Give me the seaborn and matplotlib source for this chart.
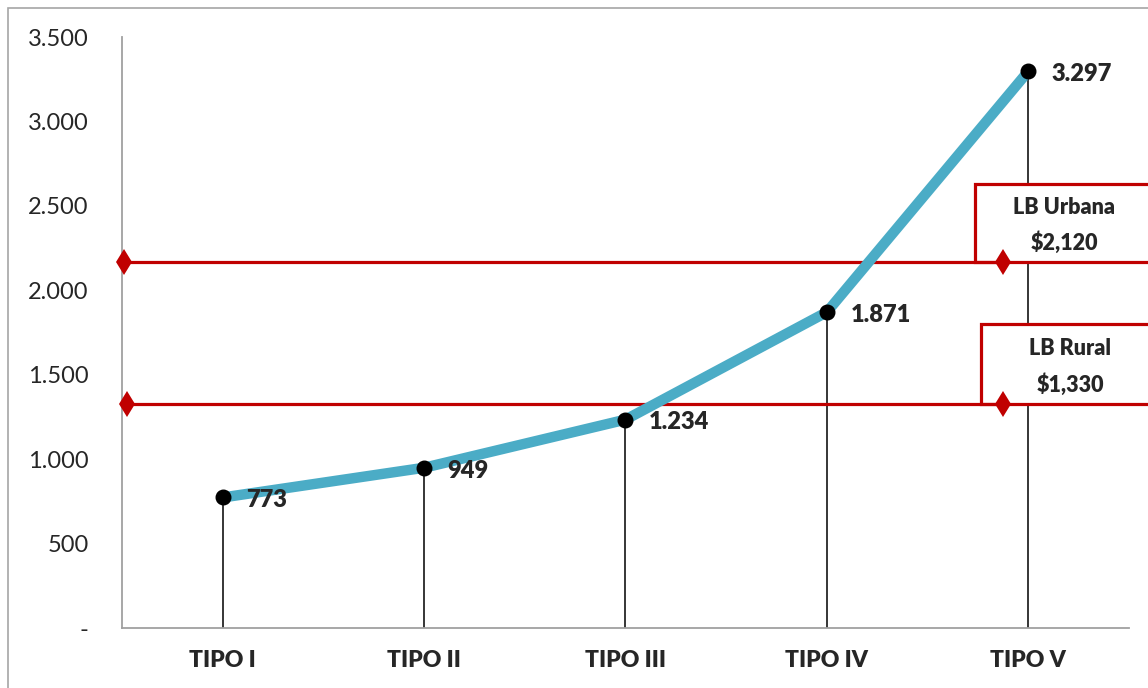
import seaborn as sns
import matplotlib.pyplot as plt
import matplotlib.patches as patches
from matplotlib.ticker import FuncFormatter
import pandas as pd

# Datos del gráfico
tipos = ['TIPO I', 'TIPO II', 'TIPO III', 'TIPO IV', 'TIPO V']
ingresos = [773, 949, 1234, 1871, 3297]
etiquetas = ['773', '949', '1.234', '1.871', '3.297']

lb_urbana = 2170
lb_rural = 1326
lb_textos = [('LB Urbana', '$2,120'), ('LB Rural', '$1,330')]

df = pd.DataFrame({'tipo': range(len(tipos)), 'ingreso': ingresos})

sns.set_style('white')
plt.rcParams['font.family'] = ['Lato', 'DejaVu Sans']
peso = 'heavy'

fig = plt.figure(figsize=(11.48, 6.88), dpi=100)
ax = fig.add_axes([0.1063, 0.0872, 0.8771, 0.8590])

# Marco exterior
fig.patches.append(patches.Rectangle((8 / 1148, -0.1), 1.2, 1.1 - 8 / 688,
                                     transform=fig.transFigure, fill=False,
                                     edgecolor='#A6A6A6', linewidth=1.2))

# Líneas verticales hasta el eje
ax.vlines(df['tipo'], 0, df['ingreso'], color='black', linewidth=1.1, zorder=1)

# Líneas de base en rojo
rojo = '#C00000'
for valor, x_izq in [(lb_urbana, -0.49), (lb_rural, -0.475)]:
    sns.lineplot(x=[x_izq, 3.876], y=[valor, valor], color=rojo, linewidth=2.3,
                 marker='d', markersize=13, markeredgewidth=0, ax=ax, zorder=4,
                 clip_on=False)

# Recuadros de texto
cajas = [(3.737, lb_urbana, 2629), (3.767, lb_rural, 1800)]
for (x0, y0, y1), (t1, t2) in zip(cajas, lb_textos):
    ax.add_patch(patches.Rectangle((x0, y0), 2.0, y1 - y0, facecolor='white',
                                   edgecolor=rojo, linewidth=2.3, clip_on=False, zorder=3))
    xc = x0 + 0.44
    ax.text(xc, y1 - (y1 - y0) * 0.30, t1, ha='center', va='center', fontsize=15.5,
            fontweight=peso, zorder=5)
    ax.text(xc, y1 - (y1 - y0) * 0.76, t2, ha='center', va='center', fontsize=15.5,
            fontweight=peso, zorder=5)

# Línea principal
sns.lineplot(data=df, x='tipo', y='ingreso', color='#4BACC6', linewidth=7.5, ax=ax,
             zorder=6)
ax.scatter(df['tipo'], df['ingreso'], s=110, color='black', zorder=7)

for x, y, lab in zip(df['tipo'], df['ingreso'], etiquetas):
    ax.annotate(lab, (x, y), xytext=(17, -2), textcoords='offset points',
                ha='left', va='center', fontsize=17, fontweight=peso, zorder=8)

ax.set_xlim(-0.5, 4.5)
ax.set_ylim(0, 3500)
ax.set_xticks(range(len(tipos)))
ax.set_xticklabels(tipos, fontsize=16.5, fontweight=peso)
ax.set_yticks(range(0, 3501, 500))
ax.yaxis.set_major_formatter(FuncFormatter(
    lambda v, p: '-' if v == 0 else f'{int(v):,}'.replace(',', '.')))
ax.tick_params(axis='y', labelsize=17, length=0, pad=24)
ax.tick_params(axis='x', length=0, pad=16)
ax.set_xlabel('')
ax.set_ylabel('')

sns.despine(ax=ax)
for lado in ['left', 'bottom']:
    ax.spines[lado].set_color('#A0A0A0')
    ax.spines[lado].set_linewidth(1.3)

fig.savefig('out.png', dpi=100)
